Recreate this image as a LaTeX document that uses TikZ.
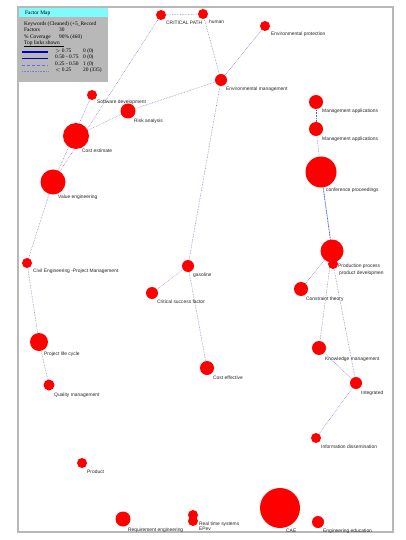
\documentclass[tikz,border=0pt]{standalone}
\usepackage{fontspec}
\setmainfont{Liberation Serif}
\newfontfamily\lblfont{Liberation Sans}
\usetikzlibrary{backgrounds}
\definecolor{linkblue}{RGB}{125,125,210}
\definecolor{linkpink}{RGB}{185,130,200}
\definecolor{linkstrong}{RGB}{90,100,215}
\definecolor{legcyan}{RGB}{128,250,250}
\begin{document}
\begin{tikzpicture}[x=1pt,y=-1pt,
  fac/.style={circle,fill=red,draw=none,inner sep=0pt,minimum size=#1},
  lbl/.style={anchor=base west,inner sep=0pt,font=\lblfont\fontsize{4.9}{5}\selectfont,text=black!85},
  lk/.style={draw=linkblue,line width=0.55pt,dash pattern=on 0.6pt off 1pt},
  lkp/.style={draw=linkpink,line width=0.55pt,dash pattern=on 0.6pt off 1pt},
  lks/.style={draw=linkstrong,line width=0.8pt,dash pattern=on 1pt off 0.6pt},
  legtxt/.style={anchor=base west,inner sep=0pt,font=\fontsize{5.4}{6}\selectfont}]
\useasboundingbox (0,0) rectangle (405,540);
\begin{pgfonlayer}{background}
\fill[white] (0,0) rectangle (405,540);
\end{pgfonlayer}
% map frame
\draw[black!28,line width=1.4pt] (18,7) rectangle (393,532);

% legend panel
\fill[black!28] (19,8) rectangle (108,82);
\fill[legcyan] (19,8) rectangle (108,17);
\node[legtxt] (lt) at (25,15) {Factor Map};
\node[legtxt] (l1) at (24,25.5) {Keywords (Cleaned) (+5\_Record};
\node[legtxt] (l2) at (24,32) {Factors};
\node[legtxt] (l2b) at (59,32) {30};
\node[legtxt] (l3) at (24,38.5) {\% Coverage};
\node[legtxt] (l3b) at (59,38.5) {90\% (460)};
\node[legtxt] (l4) at (24,45) {Top links shown};
\draw[black,line width=0.3pt] (24,46) -- (64,46);
\coordinate (s1a) at (22,52); \coordinate (s1b) at (48,52);
\coordinate (s2a) at (22,58.5); \coordinate (s2b) at (48,58.5);
\coordinate (s3a) at (22,65); \coordinate (s3b) at (48,65);
\coordinate (s4a) at (22,71.5); \coordinate (s4b) at (48,71.5);
\draw[blue!80!black,line width=1.4pt] (s1a) -- (s1b);
\draw[blue!80!black,line width=0.6pt] (s2a) -- (s2b);
\draw[blue!60,line width=0.6pt,dash pattern=on 3pt off 2pt] (s3a) -- (s3b);
\draw[lk] (s4a) -- (s4b);
\node[legtxt] (r1) at (55,52.5) {$>$ 0.75};
\node[legtxt] (r1b) at (83,52.5) {0 (0)};
\node[legtxt] (r2) at (55,59) {0.50 - 0.75};
\node[legtxt] (r2b) at (83,59) {0 (0)};
\node[legtxt] (r3) at (55,65.5) {0.25 - 0.50};
\node[legtxt] (r3b) at (83,65.5) {1 (0)};
\node[legtxt] (r4) at (55,72) {$<$ 0.25};
\node[legtxt] (r4b) at (83,72) {20 (335)};

% factors
\node[fac=10pt] (cp) at (161,15) {};
\node[fac=10pt] (hu) at (203,14) {};
\node[fac=10pt] (ep) at (265,26) {};
\node[fac=12pt] (em) at (221,80) {};
\node[fac=10pt] (sd) at (92,95) {};
\node[fac=15pt] (ra) at (128,111) {};
\node[fac=26pt] (ce) at (76,136) {};
\node[fac=25pt] (ve) at (53,182) {};
\node[fac=10pt] (cepm) at (27,263) {};
\node[fac=18pt] (plc) at (39,342) {};
\node[fac=11pt] (qm) at (49,385) {};
\node[fac=12pt] (ga) at (188,266) {};
\node[fac=12pt] (csf) at (152,293) {};
\node[fac=14pt] (cef) at (207,368) {};
\node[fac=14pt] (ma1) at (316,102) {};
\node[fac=14pt] (ma2) at (316,129) {};
\node[fac=31pt] (cpr) at (321,172) {};
\node[fac=23pt] (pp) at (332,251) {};
\node[fac=10pt] (pd) at (333,264) {};
\node[fac=14pt] (ct) at (301,289) {};
\node[fac=14pt] (km) at (319,348) {};
\node[fac=12pt] (in) at (356,383) {};
\node[fac=10pt] (id) at (316,438) {};
\node[fac=10pt] (pr) at (82,463) {};
\node[fac=15pt] (re) at (123,519) {};
\node[fac=10pt] (rt) at (193,515) {};
\node[fac=10pt] (epv) at (193,521) {};
\node[fac=40pt] (cae) at (280,508) {};
\node[fac=12pt] (ee) at (318,522) {};

% factor labels
\node[lbl] (cp-l) at (166,25) {CRITICAL PATH};
\node[lbl] (hu-l) at (209,24) {human};
\node[lbl] (ep-l) at (271,36) {Environmental protection};
\node[lbl] (em-l) at (226,91) {Environmental management};
\node[lbl] (sd-l) at (97,104) {Software development};
\node[lbl] (ra-l) at (134,123) {Risk analysis};
\node[lbl] (ce-l) at (82,153) {Cost estimate};
\node[lbl] (ve-l) at (58,198) {Value engineering};
\node[lbl] (cepm-l) at (33,272) {Civil Engineering -Project Management};
\node[lbl] (plc-l) at (44,355) {Project life cycle};
\node[lbl] (qm-l) at (54,396) {Quality management};
\node[lbl] (ga-l) at (193,276) {gasoline};
\node[lbl] (csf-l) at (157,303) {Critical success factor};
\node[lbl] (cef-l) at (213,379) {Cost effective};
\node[lbl] (ma1-l) at (322,113) {Management applications};
\node[lbl] (ma2-l) at (322,141) {Management applications};
\node[lbl] (cpr-l) at (326,191) {conference proceedings};
\node[lbl] (pp-l) at (338,267) {Production process};
\node[lbl] (pd-l) at (339,274) {product developmen};
\node[lbl] (ct-l) at (306,300) {Constraint theory};
\node[lbl] (km-l) at (325,360) {Knowledge management};
\node[lbl] (in-l) at (361,394) {Integrated};
\node[lbl] (id-l) at (321,448) {Information dissemination};
\node[lbl] (pr-l) at (87,473) {Product};
\node[lbl] (re-l) at (128,531) {Requirement engineering};
\node[lbl] (rt-l) at (199,525) {Real time systems};
\node[lbl] (epv-l) at (199,530) {EPev};
\node[lbl] (cae-l) at (286,532) {CAE};
\node[lbl] (ee-l) at (323,532) {Engineering education};

% links between factors, kept behind the circles
\begin{pgfonlayer}{background}
\draw[lk] (cp.center) -- (hu.center);
\draw[lk] (ve.center) -- (cp.center);
\draw[lk] (ve.center) -- (sd.center);
\draw[lkp] (ce.center) -- (ra.center);
\draw[lk] (ra.center) -- (em.center);
\draw[lk] (hu.center) -- (em.center);
\draw[lk] (ep.center) -- (em.center);
\draw[lk] (em.center) -- (ga.center);
\draw[lkp] (ga.center) -- (csf.center);
\draw[lk] (ga.center) -- (cef.center);
\draw[lk] (ve.center) -- (cepm.center);
\draw[lk] (cepm.center) -- (plc.center);
\draw[lk] (plc.center) -- (qm.center);
\draw[lks] (ma1.center) -- (ma2.center);
\draw[lk] (ma2.center) -- (cpr.center);
\draw[lks] (cpr.center) -- (pp.center);
\draw[lk] (pp.center) -- (ct.center);
\draw[lk] (pp.center) -- (km.center);
\draw[lk] (pd.center) -- (in.center);
\draw[lk] (km.center) -- (in.center);
\draw[lk] (in.center) -- (id.center);
\end{pgfonlayer}
\end{tikzpicture}
\end{document}
